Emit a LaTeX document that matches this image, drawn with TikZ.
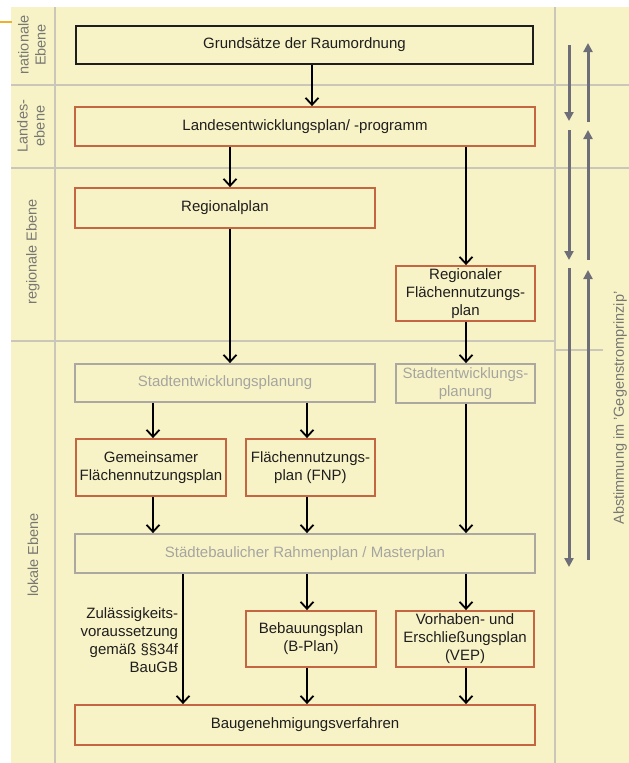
\documentclass[tikz,border=0pt]{standalone}
\usepackage{fontspec}
\setmainfont{Liberation Sans}
\usetikzlibrary{arrows.meta}
\definecolor{cream}{RGB}{248,243,198}
\definecolor{gridc}{RGB}{202,199,184}
\definecolor{orbord}{RGB}{196,102,66}
\definecolor{grbord}{RGB}{170,168,160}
\definecolor{grtext}{RGB}{165,165,160}
\definecolor{txt}{RGB}{30,30,30}
\definecolor{lbl}{RGB}{120,120,115}
\definecolor{sidearr}{RGB}{110,110,120}
\definecolor{gold}{RGB}{240,176,40}
\tikzset{
  base/.style={rectangle, inner sep=0pt, align=center, text=txt,
    font=\fontsize{15}{18}\selectfont, line width=1.8pt},
  obox/.style={base, draw=orbord},
  kbox/.style={base, draw=txt},
  gbox/.style={base, draw=grbord, text=grtext},
  arr/.style={draw=black, line width=1.8pt, -{Straight Barb[length=7pt,width=13pt,line width=1.8pt]}},
  sarr/.style={draw=sidearr, line width=3pt, -{Triangle[length=9pt,width=9pt]}},
  gridline/.style={draw=gridc, line width=2.5pt},
  lvl/.style={text=lbl, align=center, rotate=90, font=\fontsize{14.5}{17}\selectfont}
}
\begin{document}
\begin{tikzpicture}[x=1pt,y=-1pt]
\useasboundingbox (0,0) rectangle (629,763);
\fill[white] (0,0) rectangle (629,763);
\fill[cream] (11,7) rectangle (629,763);
% grid
\draw[gridline] (55,7) -- (55,763);
\draw[gridline] (555,7) -- (555,763);
\draw[gridline] (11,85) -- (629,85);
\draw[gridline] (11,168) -- (629,168);
\draw[gridline] (11,341) -- (555,341);
\draw[gridline] (555,350) -- (603,350);
\draw[draw=gold, line width=2pt] (0,22) -- (12,22);
% level labels
\node[lvl] (lnat) at (32,45) {nationale\\Ebene};
\node[lvl] (llan) at (31,126) {Landes-\\ebene};
\node[lvl] (lreg) at (33,252) {regionale Ebene};
\node[lvl] (llok) at (33,555) {lokale Ebene};
\node[lvl] (labst) at (620,408) {Abstimmung im 'Gegenstromprinzip'};
% boxes
\node[kbox, minimum width=457, minimum height=38] (grund) at (304.5,45) {Grundsätze der Raumordnung};
\node[obox, minimum width=460, minimum height=39] (lep) at (305,126.5) {Landesentwicklungsplan/ -programm};
\node[obox, minimum width=300, minimum height=40] (reg) at (225,208) {Regionalplan};
\node[obox, minimum width=139, minimum height=55] (rfnp) at (465.5,293.5) {Regionaler\\Flächennutzungs-\\plan};
\node[gbox, minimum width=300, minimum height=38] (sep1) at (225,383) {Stadtentwicklungsplanung};
\node[gbox, minimum width=139, minimum height=39] (sep2) at (465.5,383.5) {Stadtentwicklungs-\\planung};
\node[obox, minimum width=150, minimum height=57] (gfnp) at (151,467.5) {Gemeinsamer\\Flächennutzungsplan};
\node[obox, minimum width=129, minimum height=57] (fnp) at (310.5,467.5) {Flächennutzungs-\\plan (FNP)};
\node[gbox, minimum width=460, minimum height=39] (rahmen) at (305,553.5) {Städtebaulicher Rahmenplan / Masterplan};
\node[obox, minimum width=130, minimum height=56] (bplan) at (311,639) {Bebauungsplan\\(B-Plan)};
\node[obox, minimum width=138, minimum height=56] (vep) at (465,639) {Vorhaben- und\\Erschließungsplan\\(VEP)};
\node[obox, minimum width=460, minimum height=40] (bau) at (305,725) {Baugenehmigungsverfahren};
\node[base, anchor=east, align=right, text=txt] (zul) at (179,640) {Zulässigkeits-\\voraussetzung\\gemäß §§34f\\BauGB};
% column coordinates
\coordinate (c312) at (312,0);
\coordinate (c230) at (230,0);
\coordinate (c466) at (466,0);
\coordinate (c153) at (153,0);
\coordinate (c307) at (307,0);
\coordinate (c183) at (183,0);
% arrows
\draw[arr] (grund.south -| c312) -- (lep.north -| c312);
\draw[arr] (lep.south -| c230) -- (reg.north -| c230);
\draw[arr] (reg.south -| c230) -- (sep1.north -| c230);
\draw[arr] (lep.south -| c466) -- (rfnp.north -| c466);
\draw[arr] (rfnp.south -| c466) -- (sep2.north -| c466);
\draw[arr] (sep1.south -| c153) -- (gfnp.north -| c153);
\draw[arr] (sep1.south -| c307) -- (fnp.north -| c307);
\draw[arr] (gfnp.south -| c153) -- (rahmen.north -| c153);
\draw[arr] (fnp.south -| c307) -- (rahmen.north -| c307);
\draw[arr] (sep2.south -| c466) -- (rahmen.north -| c466);
\draw[arr] (rahmen.south -| c183) -- (bau.north -| c183);
\draw[arr] (rahmen.south -| c307) -- (bplan.north -| c307);
\draw[arr] (rahmen.south -| c466) -- (vep.north -| c466);
\draw[arr] (bplan.south -| c307) -- (bau.north -| c307);
\draw[arr] (vep.south -| c466) -- (bau.north -| c466);
% side arrows
\coordinate (d1a) at (569,45);  \coordinate (d1b) at (569,121);
\coordinate (u1a) at (588,122); \coordinate (u1b) at (588,43);
\coordinate (d2a) at (569,130); \coordinate (d2b) at (569,260);
\coordinate (u2a) at (588,260); \coordinate (u2b) at (588,130);
\coordinate (d3a) at (569,268); \coordinate (d3b) at (569,567);
\coordinate (u3a) at (588,560); \coordinate (u3b) at (588,270);
\draw[sarr] (d1a) -- (d1b);
\draw[sarr] (u1a) -- (u1b);
\draw[sarr] (d2a) -- (d2b);
\draw[sarr] (u2a) -- (u2b);
\draw[sarr] (d3a) -- (d3b);
\draw[sarr] (u3a) -- (u3b);
\end{tikzpicture}
\end{document}
